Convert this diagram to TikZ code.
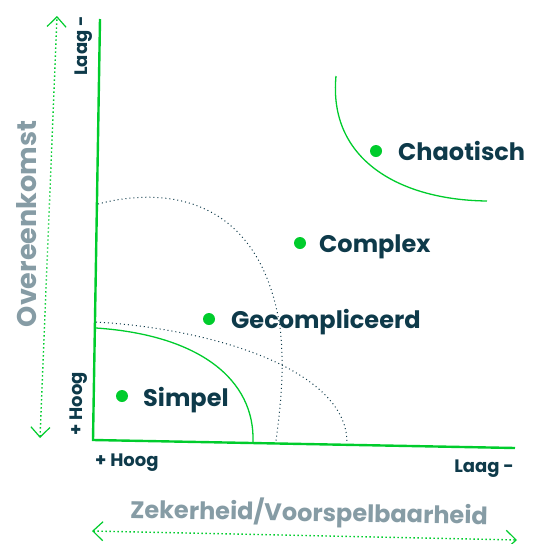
\documentclass[tikz,border=0pt]{standalone}
\usepackage{fontspec}
\setmainfont{Poppins}
\usetikzlibrary{arrows.meta}
\definecolor{fresh}{HTML}{00CC2C}
\definecolor{navy}{HTML}{0E3A4A}
\definecolor{slate}{HTML}{869CA5}
\begin{document}
\begin{tikzpicture}[x=1pt, y=-1pt,
	axis/.style={fresh, line width=2.4pt},
	guide/.style={fresh, line width=1.4pt, dash pattern=on 1.4pt off 2.6pt,
		{Straight Barb[length=10pt,width=19pt,line width=1.2pt]}-{Straight Barb[length=10pt,width=19pt,line width=1.2pt]}},
	edge/.style={fresh, line width=1.3pt},
	border/.style={navy, line width=1pt, dash pattern=on 1pt off 3pt},
	blob/.style={circle, fill=fresh, inner sep=0pt, minimum size=12pt},
	field/.style={anchor=base west, navy, font=\fontsize{24}{28}\selectfont\bfseries, inner sep=0pt},
	tick/.style={navy, font=\fontsize{18}{22}\selectfont\bfseries, inner sep=0pt},
	title/.style={slate, font=\fontsize{24}{28}\selectfont\bfseries, inner sep=0pt}]
	\useasboundingbox (0,0) rectangle (534,544);
	% axes
	\coordinate (O) at (93,440);
	\coordinate (Ytop) at (100,19);
	\coordinate (Xend) at (515,448);
	\draw[axis] (Ytop) -- (O) -- (Xend);
	% dotted guides
	\coordinate (G1) at (40,438);
	\coordinate (G2) at (57,16);
	\coordinate (G3) at (92,531);
	\coordinate (G4) at (517,540);
	\draw[guide] (G1) -- (G2);
	\draw[guide] (G3) -- (G4);
	% axis texts
	\node[tick, rotate=90] (ltop) at (84,46) {Laag -};
	\node[tick, rotate=90] (hleft) at (79,404) {+ Hoog};
	\node[tick, anchor=base west] (hbot) at (95,466) {+ Hoog};
	\node[tick, anchor=base east] (lbot) at (514,472) {Laag -};
	\node[title, font=\fontsize{27}{32}\selectfont\bfseries, rotate=90] (ovk) at (27,224) {Overeenkomst};
	\node[title, rotate=-1] (zkh) at (309,513) {Zekerheid/Voorspelbaarheid};
	% domains
	\draw[edge] (96,328) .. controls (200,335) and (255,380) .. (253,442);
	\draw[border] (96,322) .. controls (215,329) and (345,370) .. (347,441);
	\draw[border] (98,204) .. controls (170,185) and (260,200) .. (280,327)
		.. controls (285,370) and (280,410) .. (276,441);
	\draw[edge] (336,76) .. controls (328,160) and (400,200) .. (487,201);
	% labels
	\node[blob] (s) at (122,396) {};
	\node[field] (sl) at (143,406) {Simpel};
	\node[blob] (g) at (209,319) {};
	\node[field] (gl) at (231,328) {Gecompliceerd};
	\node[blob] (c) at (300,243) {};
	\node[field] (cl) at (319,252) {Complex};
	\node[blob] (k) at (376,151) {};
	\node[field] (kl) at (398,160) {Chaotisch};
\end{tikzpicture}
\end{document}
